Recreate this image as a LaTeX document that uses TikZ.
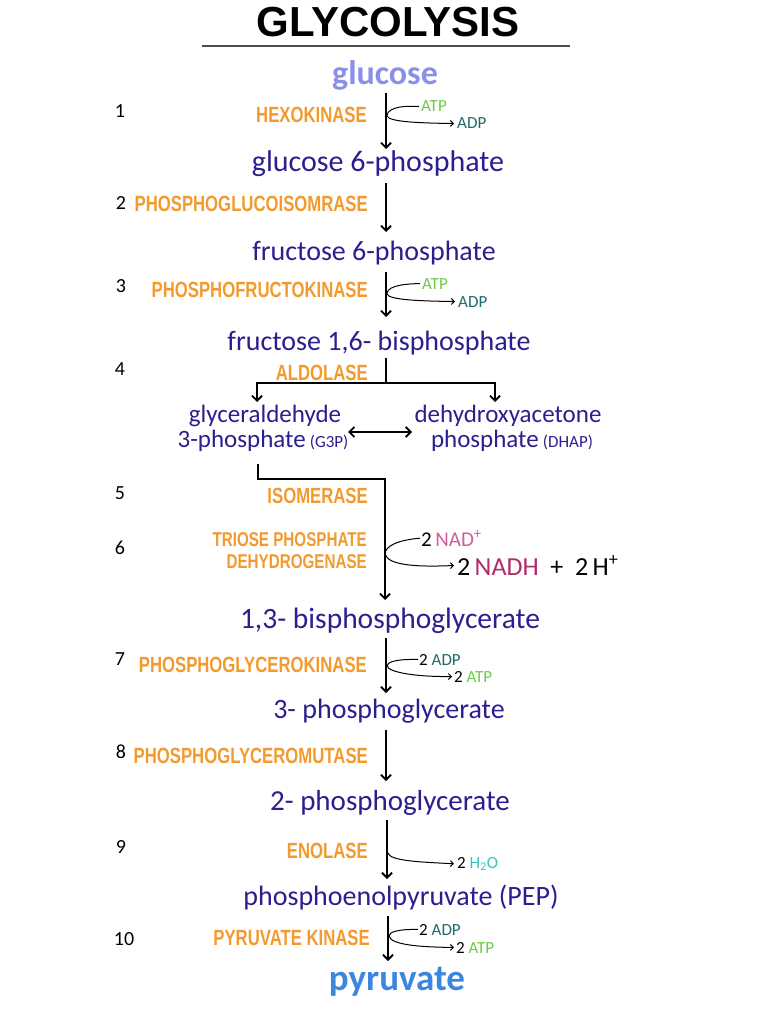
\documentclass[tikz,border=0pt]{standalone}
\usepackage{fontspec}
\setmainfont{Liberation Sans}
\newfontfamily\molfont{Carlito}
\newfontfamily\enzfont[FakeStretch=0.76]{Liberation Sans}
\newfontfamily\hfont{Carlito}
\usetikzlibrary{arrows.meta}
\definecolor{molblue}{HTML}{2B1F8F}
\definecolor{glucol}{HTML}{8A8FE8}
\definecolor{pyrcol}{HTML}{3B87DF}
\definecolor{enzorange}{HTML}{F39A2E}
\definecolor{atpcol}{HTML}{6DCB4A}
\definecolor{adpcol}{HTML}{1F6B6B}
\definecolor{nadcol}{HTML}{D65A9E}
\definecolor{nadhcol}{HTML}{B22A6A}
\definecolor{watcol}{HTML}{3DC2C2}
\begin{document}
\begin{tikzpicture}[x=1pt,y=-1pt,
  mol/.style={font=\molfont\fontsize{28}{28}\selectfont, text=molblue, anchor=base, inner sep=0pt},
  enz/.style={font=\enzfont\bfseries\fontsize{22}{18}\selectfont, text=enzorange, anchor=base east, inner sep=0pt},
  num/.style={font=\hfont\fontsize{20}{20}\selectfont, anchor=base, inner sep=0pt},
  sml/.style={font=\hfont\fontsize{17}{17}\selectfont, anchor=base west, inner sep=0pt},
  arr/.style={line width=1.8pt, -{Straight Barb[length=5pt,width=10pt]}},
  side/.style={line width=1pt, -{Straight Barb[length=3pt,width=6pt]}}]
\useasboundingbox (0,0) rectangle (768,1024);
\fill[white] (0,0) rectangle (768,1024);

% title
\node[font=\bfseries\fontsize{42}{42}\selectfont, anchor=base, inner sep=0pt] (title) at (388,37) {GLYCOLYSIS};
\coordinate (ul1) at (202,46);
\coordinate (ul2) at (570,46);
\draw[line width=1.4pt, black!70] (ul1) -- (ul2);

% molecules
\node[mol, font=\molfont\bfseries\fontsize{34}{34}\selectfont, text=glucol] (glc) at (385,85) {glucose};
\node[mol, font=\molfont\fontsize{30}{30}\selectfont] (g6p) at (378,172) {glucose 6-phosphate};
\node[mol] (f6p) at (374,260) {fructose 6-phosphate};
\node[mol] (f16) at (379,350) {fructose 1,6- bisphosphate};
\node[mol, font=\molfont\fontsize{25}{25}\selectfont] (g3pa) at (265,422) {glyceraldehyde};
\node[mol, font=\molfont\fontsize{25}{25}\selectfont] (g3pb) at (263,447) {3-phosphate\,{\fontsize{17}{17}\selectfont(G3P)}};
\node[mol, font=\molfont\fontsize{25}{25}\selectfont] (dhapa) at (508,422) {dehydroxyacetone};
\node[mol, font=\molfont\fontsize{25}{25}\selectfont] (dhapb) at (512,447) {phosphate\,{\fontsize{17}{17}\selectfont(DHAP)}};
\node[mol, font=\molfont\fontsize{29.5}{30}\selectfont] (bpg) at (390,628) {1,3- bisphosphoglycerate};
\node[mol] (pg3) at (389,718) {3- phosphoglycerate};
\node[mol, font=\molfont\fontsize{29}{30}\selectfont] (pg2) at (390,810) {2- phosphoglycerate};
\node[mol] (pep) at (401,905) {phosphoenolpyruvate (PEP)};
\node[mol, font=\molfont\bfseries\fontsize{37}{37}\selectfont, text=pyrcol] (pyr) at (397,990) {pyruvate};

% enzymes
\node[enz] (e1) at (367,123) {HEXOKINASE};
\node[enz] (e2) at (368,212) {PHOSPHOGLUCOISOMRASE};
\node[enz] (e3) at (368,297) {PHOSPHOFRUCTOKINASE};
\node[enz] (e4) at (368,380) {ALDOLASE};
\node[enz] (e5) at (368,503) {ISOMERASE};
\node[enz, font=\enzfont\bfseries\fontsize{20}{22}\selectfont, anchor=east, align=right] (e6) at (367,551) {TRIOSE PHOSPHATE\\DEHYDROGENASE};
\node[enz] (e7) at (367,672) {PHOSPHOGLYCEROKINASE};
\node[enz] (e8) at (368,763) {PHOSPHOGLYCEROMUTASE};
\node[enz] (e9) at (368,858) {ENOLASE};
\node[enz] (e10) at (370,945) {PYRUVATE KINASE};

% step numbers
\node[num] (n1) at (120,118) {1};
\node[num] (n2) at (121,210) {2};
\node[num] (n3) at (121,292) {3};
\node[num] (n4) at (120,375) {4};
\node[num] (n5) at (120,499) {5};
\node[num] (n6) at (120,554) {6};
\node[num] (n7) at (120,665) {7};
\node[num] (n8) at (121,758) {8};
\node[num] (n9) at (121,853) {9};
\node[num] (n10) at (124,945) {10};

% side labels
\node[sml, text=atpcol] (atp1) at (421,112) {ATP};
\node[sml, text=adpcol] (adp1) at (457,129) {ADP};
\node[sml, text=atpcol] (atp3) at (422,289) {ATP};
\node[sml, text=adpcol] (adp3) at (458,307) {ADP};
\node[sml, font=\hfont\fontsize{21}{21}\selectfont] (nad) at (421,546) {2\,\textcolor{nadcol}{NAD\textsuperscript{+}}};
\node[sml, font=\hfont\fontsize{26}{26}\selectfont] (nadh) at (457,575) {2\,\textcolor{nadhcol}{NADH} \ + \ 2\,H\textsuperscript{+}};
\node[sml] (adp7) at (419,665) {2 \textcolor{adpcol}{ADP}};
\node[sml] (atp7) at (454,682) {2 \textcolor{atpcol}{ATP}};
\node[sml] (h2o) at (457,868) {2 \textcolor{watcol}{H\textsubscript{2}O}};
\node[sml] (adp10) at (419,935) {2 \textcolor{adpcol}{ADP}};
\node[sml] (atp10) at (456,953) {2 \textcolor{atpcol}{ATP}};

% main axis coordinates
\coordinate (a1s) at (386,93);  \coordinate (a1e) at (386,149);
\coordinate (a2s) at (386,183); \coordinate (a2e) at (386,232);
\coordinate (a3s) at (386,272); \coordinate (a3e) at (386,317);
\coordinate (ald0) at (386,358); \coordinate (ald1) at (386,383);
\coordinate (g3ptop) at (257,402); \coordinate (dhtop) at (495,402);
\coordinate (dbl1) at (348,432); \coordinate (dbl2) at (412,432);
\coordinate (g3pd) at (258,464); \coordinate (g3pc) at (258,479);
\coordinate (bpgtop) at (385,600);
\coordinate (a7s) at (386,638); \coordinate (a7e) at (386,693);
\coordinate (a8s) at (386,730); \coordinate (a8e) at (386,781);
\coordinate (a9s) at (387,820); \coordinate (a9e) at (387,879);
\coordinate (a10s) at (388,916); \coordinate (a10e) at (388,961);

\draw[arr] (a1s) -- (a1e);
\draw[arr] (a2s) -- (a2e);
\draw[arr] (a3s) -- (a3e);
\draw[arr] (ald0) -- (ald1) -| (g3ptop);
\draw[arr] (ald1) -| (dhtop);
\draw[line width=1.8pt, {Straight Barb[length=5pt,width=10pt]}-{Straight Barb[length=5pt,width=10pt]}] (dbl1) -- (dbl2);
\draw[arr] (g3pd) -- (g3pc) -| (bpgtop);
\draw[arr] (a7s) -- (a7e);
\draw[arr] (a8s) -- (a8e);
\draw[arr] (a9s) -- (a9e);
\draw[arr] (a10s) -- (a10e);

% side branches
\coordinate (k1) at (387,116);
\draw[side] ([xshift=-2pt]atp1.west) .. controls (396,105) and (387,110) .. (k1) .. controls (389,122) and (420,123) .. ([xshift=-3pt]adp1.west);
\coordinate (k3) at (387,294);
\draw[side] ([xshift=-2pt]atp3.west) .. controls (396,284) and (387,288) .. (k3) .. controls (389,300) and (420,301) .. ([xshift=-3pt]adp3.west);
\coordinate (k6) at (385,554);
\draw[side] ([xshift=-1pt]nad.west) .. controls (398,540) and (385,546) .. (k6) .. controls (388,566) and (420,567) .. ([xshift=-3pt]nadh.west);
\coordinate (k7) at (387,666);
\draw[side] ([xshift=-1pt]adp7.west) .. controls (396,659) and (387,662) .. (k7) .. controls (389,673) and (420,677) .. ([xshift=-2pt]atp7.west);
\coordinate (k9) at (388,853);
\draw[side] (k9) .. controls (390,861) and (420,862) .. ([xshift=-3pt]h2o.west);
\coordinate (k10) at (389,936);
\draw[side] ([xshift=-1pt]adp10.west) .. controls (398,929) and (389,932) .. (k10) .. controls (391,945) and (420,947) .. ([xshift=-2pt]atp10.west);
\end{tikzpicture}
\end{document}
